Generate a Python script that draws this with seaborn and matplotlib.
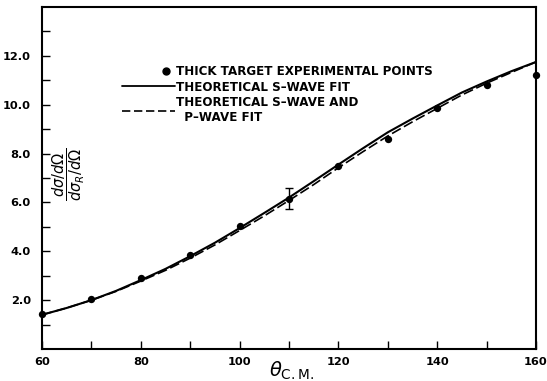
import numpy as np
import pandas as pd
import seaborn as sns
import matplotlib
matplotlib.use("Agg")
import matplotlib.pyplot as plt
from matplotlib.lines import Line2D
from matplotlib.legend_handler import HandlerLine2D

# ---- data ----
exp_theta = [60, 70, 80, 90, 100, 110, 120, 130, 140, 150, 160]
exp_ratio = [1.45, 2.05, 2.9, 3.85, 5.05, 6.15, 7.5, 8.6, 9.85, 10.8, 11.2]
err_theta = [110]
err_ratio = [6.15]
err_size = [0.43]

fit_theta = [60, 65, 70, 75, 80, 85, 90, 95, 100, 105, 110, 115, 120,
             125, 130, 135, 140, 145, 150, 155, 160]
s_wave = [1.40, 1.68, 2.00, 2.38, 2.82, 3.28, 3.80, 4.35, 4.95, 5.57, 6.20,
          6.87, 7.55, 8.22, 8.87, 9.43, 9.97, 10.50, 10.95, 11.37, 11.75]
sp_wave = [1.40, 1.68, 2.00, 2.36, 2.78, 3.22, 3.72, 4.26, 4.85, 5.45, 6.08,
           6.73, 7.42, 8.08, 8.72, 9.30, 9.85, 10.40, 10.88, 11.32, 11.75]

x_ticks = [60, 80, 100, 120, 140, 160]
x_minor = [70, 90, 110, 130, 150]
y_ticks = [2, 4, 6, 8, 10, 12]
y_tick_labels = ["2.0", "4.0", "6.0", "8.0", "10.0", "12.0"]
y_minor = [1, 3, 5, 7, 9, 11, 13]

leg_exp = "THICK TARGET EXPERIMENTAL POINTS"
leg_s = "THEORETICAL S\u2013WAVE FIT"
leg_sp = "THEORETICAL S\u2013WAVE AND\n  P\u2013WAVE FIT"

# ---- plotting ----
sns.set_style("ticks")
plt.rcParams["font.family"] = ["DejaVu Sans"]
plt.rcParams["mathtext.fontset"] = "dejavusans"
plt.rcParams["text.color"] = "black"

fig = plt.figure(figsize=(5.47, 3.81), dpi=100)
ax = fig.add_axes([42 / 547, 1 - 349 / 381, 494 / 547, 342 / 381])

fits = pd.DataFrame({"theta": fit_theta, "s": s_wave, "sp": sp_wave})
pts = pd.DataFrame({"theta": exp_theta, "ratio": exp_ratio})

sns.lineplot(data=fits, x="theta", y="s", ax=ax, color="black", lw=1.5)
sns.lineplot(data=fits, x="theta", y="sp", ax=ax, color="black", lw=1.2,
             dashes=False)
ax.lines[-1].set_dashes((6, 2.2))
sns.scatterplot(data=pts, x="theta", y="ratio", ax=ax, color="black", s=28,
                edgecolor="black", linewidth=0, zorder=5, clip_on=False)
ax.errorbar(err_theta, err_ratio, yerr=err_size, fmt="none", ecolor="black",
            elinewidth=1.0, capsize=3, capthick=1.0)

ax.set_xlim(60, 160)
ax.set_ylim(0, 14)
ax.set_xticks(x_ticks)
ax.set_xticks(x_minor, minor=True)
ax.set_xticklabels([str(v) for v in x_ticks])
ax.set_yticks(y_ticks)
ax.set_yticks(y_minor, minor=True)
ax.set_yticklabels(y_tick_labels)
ax.tick_params(axis="both", which="both", direction="in", length=6,
               width=1.0, color="black", labelcolor="black")
ax.tick_params(axis="x", which="both", pad=6)
ax.tick_params(axis="y", which="both", pad=8)
for lab in ax.get_xticklabels() + ax.get_yticklabels():
    lab.set_fontsize(8.2)
    lab.set_fontweight("bold")
for sp in ax.spines.values():
    sp.set_visible(True)
    sp.set_linewidth(1.5)
    sp.set_color("black")
ax.set_xlabel("")
ax.set_ylabel("")

ax.text(0.055, 0.512, r"$\dfrac{d\sigma/d\Omega}{d\sigma_R/d\Omega}$",
        transform=ax.transAxes, rotation=90, ha="center", va="center",
        fontsize=10.5, color="black")
ax.text(0.506, -0.03, r"$\theta_{\rm C.M.}$", transform=ax.transAxes,
        ha="center", va="top", fontsize=14, color="black")


class RightMarkerHandler(HandlerLine2D):
    def get_xdata(self, legend, xdescent, ydescent, width, height, fontsize):
        mx = -xdescent + width - 6
        return np.array([mx - 1, mx + 1]), np.array([mx])


h_exp = Line2D([], [], ls="none", marker="o", color="black", ms=5)
h_s = Line2D([], [], ls="-", color="black", lw=1.3)
h_sp = Line2D([], [], ls=(0, (5, 2.2)), color="black", lw=1.2)
leg = ax.legend([h_exp, h_s, h_sp], [leg_exp, leg_s, leg_sp],
                loc="upper left", bbox_to_anchor=(0.162, 0.83),
                frameon=False, borderpad=0, borderaxespad=0,
                handlelength=4.4, handletextpad=0.15, labelspacing=0.2,
                numpoints=1, labelcolor="black",
                handler_map={h_exp: RightMarkerHandler(numpoints=1)},
                prop={"size": 8.6, "weight": "bold"})

fig.savefig("out.png", dpi=100)
